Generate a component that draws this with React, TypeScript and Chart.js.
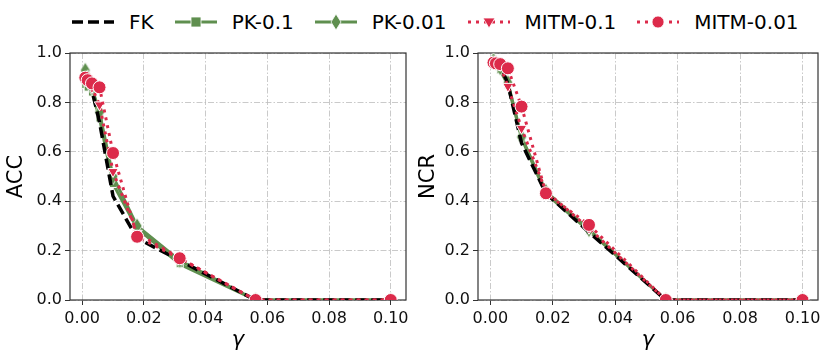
import React, { useEffect, useRef } from 'react';
import { Chart, registerables } from 'chart.js';
Chart.register(...registerables);

// ---------- data ----------
const gammas = [0.001, 0.00178, 0.00316, 0.00562, 0.01, 0.0178, 0.0316, 0.0562, 0.1];
const xTicks = [0, 0.02, 0.04, 0.06, 0.08, 0.1];
const yTicks = [0, 0.2, 0.4, 0.6, 0.8, 1.0];
const seriesNames = ['FK', 'PK-0.1', 'PK-0.01', 'MITM-0.1', 'MITM-0.01'];
const yTitles = ['ACC', 'NCR'];
const xTitle = 'γ';

const accFK = [0.88, 0.87, 0.85, 0.72, 0.42, 0.25, 0.16, 0.0, 0.0];
const accPK01 = [0.87, 0.86, 0.84, 0.735, 0.47, 0.29, 0.145, 0.0, 0.0];
const accPK001 = [0.93, 0.9, 0.86, 0.76, 0.5, 0.3, 0.16, 0.0, 0.0];
const accMITM01 = [0.89, 0.88, 0.86, 0.79, 0.52, 0.27, 0.17, 0.0, 0.0];
const accMITM001 = [0.9, 0.89, 0.877, 0.861, 0.595, 0.256, 0.169, 0.0, 0.0];

const ncrFK = [0.965, 0.96, 0.95, 0.875, 0.635, 0.432, 0.275, 0.0, 0.0];
const ncrPK01 = [0.96, 0.95, 0.93, 0.87, 0.655, 0.43, 0.28, 0.0, 0.0];
const ncrPK001 = [0.97, 0.96, 0.94, 0.88, 0.66, 0.44, 0.285, 0.0, 0.0];
const ncrMITM01 = [0.96, 0.955, 0.95, 0.865, 0.695, 0.44, 0.29, 0.0, 0.0];
const ncrMITM001 = [0.961, 0.958, 0.955, 0.938, 0.783, 0.432, 0.304, 0.0, 0.0];

const accSeries = [accFK, accPK01, accPK001, accMITM01, accMITM001];
const ncrSeries = [ncrFK, ncrPK01, ncrPK001, ncrMITM01, ncrMITM001];

// ---------- styles ----------
const GREEN = '#5f8f4f';
const RED = '#dc2a4a';
const FONT = "'DejaVu Sans', sans-serif";

function makeThinDiamond(color: string) {
  const c = document.createElement('canvas');
  c.width = 12;
  c.height = 18;
  const g = c.getContext('2d')!;
  g.beginPath();
  g.moveTo(6, 1);
  g.lineTo(11, 9);
  g.lineTo(6, 17);
  g.lineTo(1, 9);
  g.closePath();
  g.fillStyle = color;
  g.fill();
  g.strokeStyle = '#ffffff';
  g.lineWidth = 0.8;
  g.stroke();
  return c;
}

type Style = {
  color: string;
  width: number;
  dash: number[];
  point: any;
  radius: number;
  rotation: number;
  order: number;
};

function seriesStyles(): Style[] {
  return [
    { color: '#000000', width: 3.5, dash: [11, 5], point: false, radius: 0, rotation: 0, order: 2 },
    { color: GREEN, width: 3, dash: [], point: 'rect', radius: 5, rotation: 0, order: 4 },
    { color: GREEN, width: 3, dash: [], point: makeThinDiamond(GREEN), radius: 7, rotation: 0, order: 3 },
    { color: RED, width: 3, dash: [3, 5], point: 'triangle', radius: 6, rotation: 180, order: 1 },
    { color: RED, width: 3, dash: [3, 5], point: 'circle', radius: 6.5, rotation: 0, order: 0 },
  ];
}

const framePlugin = {
  id: 'frame',
  beforeDatasetsDraw(chart: any) {
    const { ctx, chartArea } = chart;
    ctx.save();
    ctx.strokeStyle = '#333333';
    ctx.lineWidth = 1.2;
    ctx.strokeRect(chartArea.left, chartArea.top, chartArea.right - chartArea.left, chartArea.bottom - chartArea.top);
    ctx.restore();
  },
};

type PanelProps = {
  yTitle: string;
  series: number[][];
  left: number;
  width: number;
  yAxisWidth: number;
  padRight: number;
};

const CANVAS_TOP = 36;
const CANVAS_H = 324;

function Panel({ yTitle, series, left, width, yAxisWidth, padRight }: PanelProps) {
  const ref = useRef<HTMLCanvasElement>(null);
  useEffect(() => {
    const styles = seriesStyles();
    const datasets = series.map((vals, i) => {
      const s = styles[i];
      return {
        label: seriesNames[i],
        data: gammas.map((g, j) => ({ x: g, y: vals[j] })),
        borderColor: s.color,
        backgroundColor: s.color,
        borderWidth: s.width,
        borderDash: s.dash,
        borderCapStyle: 'butt',
        pointStyle: s.point,
        pointRadius: s.radius,
        pointRotation: s.rotation,
        pointBackgroundColor: s.color,
        pointBorderColor: '#ffffff',
        pointBorderWidth: 1,
        tension: 0,
        clip: 0,
        order: s.order,
      };
    });
    const chart = new Chart(ref.current!, {
      type: 'line',
      data: { datasets } as any,
      plugins: [framePlugin],
      options: {
        animation: false,
        responsive: false,
        devicePixelRatio: 1,
        layout: { padding: { top: 17, right: padRight, left: 0, bottom: 0 } },
        plugins: { legend: { display: false }, tooltip: { enabled: false } },
        scales: {
          x: {
            type: 'linear',
            min: -0.00395,
            max: 0.10495,
            afterFit: (s: any) => {
              s.height = 60;
            },
            afterBuildTicks: (s: any) => {
              s.ticks = xTicks.map((v) => ({ value: v }));
            },
            ticks: {
              callback: (v: any) => Number(v).toFixed(2),
              font: { family: FONT, size: 16 },
              color: '#111111',
              padding: 4,
              maxRotation: 0,
              autoSkip: false,
            },
            grid: {
              color: '#bdbdbd',
              lineWidth: 0.8,
              tickLength: 5,
              tickColor: '#333333',
              tickWidth: 1,
              tickBorderDash: [],
            },
            border: { display: false, dash: [6, 2, 1.5, 2] },
            title: {
              display: true,
              text: xTitle,
              font: { family: FONT, size: 21, style: 'italic' },
              color: '#000000',
              padding: { top: 0, bottom: 7 },
            },
          },
          y: {
            type: 'linear',
            min: 0,
            max: 1,
            afterFit: (s: any) => {
              s.width = yAxisWidth;
            },
            afterBuildTicks: (s: any) => {
              s.ticks = yTicks.map((v) => ({ value: v }));
            },
            ticks: {
              callback: (v: any) => Number(v).toFixed(1),
              font: { family: FONT, size: 16 },
              color: '#111111',
              padding: 3,
              autoSkip: false,
            },
            grid: {
              color: '#bdbdbd',
              lineWidth: 0.8,
              tickLength: 5,
              tickColor: '#333333',
              tickWidth: 1,
              tickBorderDash: [],
            },
            border: { display: false, dash: [6, 2, 1.5, 2] },
            title: {
              display: true,
              text: yTitle,
              font: { family: FONT, size: 21 },
              color: '#000000',
              padding: { top: 4, bottom: 0 },
            },
          },
        },
      } as any,
    });
    return () => chart.destroy();
  }, []);
  return (
    <div style={{ position: 'absolute', left, top: CANVAS_TOP, width, height: CANVAS_H }}>
      <canvas ref={ref} width={width} height={CANVAS_H} style={{ width, height: CANVAS_H, display: 'block' }} />
    </div>
  );
}

function LegendSample({ index }: { index: number }) {
  const w = 42;
  const h = 22;
  const cy = h / 2;
  const cx = w / 2;
  let line: any;
  let marker: any = null;
  if (index === 0) {
    line = <line x1={0} y1={cy} x2={w} y2={cy} stroke="#000" strokeWidth={3.5} strokeDasharray="11 5" />;
  } else if (index === 1 || index === 2) {
    line = <line x1={0} y1={cy} x2={w} y2={cy} stroke={GREEN} strokeWidth={3} />;
    marker =
      index === 1 ? (
        <rect x={cx - 5} y={cy - 5} width={10} height={10} fill={GREEN} stroke="#fff" strokeWidth={0.8} />
      ) : (
        <polygon points={`${cx},${cy - 8} ${cx + 5},${cy} ${cx},${cy + 8} ${cx - 5},${cy}`} fill={GREEN} stroke="#fff" strokeWidth={0.8} />
      );
  } else {
    line = <line x1={0} y1={cy} x2={w} y2={cy} stroke={RED} strokeWidth={3} strokeDasharray="3 5" />;
    marker =
      index === 3 ? (
        <polygon points={`${cx - 6},${cy - 4} ${cx + 6},${cy - 4} ${cx},${cy + 6}`} fill={RED} stroke="#fff" strokeWidth={0.8} />
      ) : (
        <circle cx={cx} cy={cy} r={6} fill={RED} stroke="#fff" strokeWidth={0.8} />
      );
  }
  return (
    <svg width={w} height={h} style={{ display: 'block', marginRight: 15 }}>
      {line}
      {marker}
    </svg>
  );
}

function Legend() {
  return (
    <div
      style={{
        position: 'absolute',
        left: 72,
        top: 6,
        height: 32,
        display: 'flex',
        alignItems: 'center',
        fontFamily: FONT,
        fontSize: 20,
        color: '#000',
        whiteSpace: 'nowrap',
      }}
    >
      {seriesNames.map((n, i) => (
        <div key={n} style={{ display: 'flex', alignItems: 'center', marginRight: 21 }}>
          <LegendSample index={i} />
          <span>{n}</span>
        </div>
      ))}
    </div>
  );
}

export default function App() {
  return (
    <div style={{ position: 'fixed', left: 0, top: 0, width: 830, height: 360, background: '#fff', overflow: 'hidden' }}>
      <Legend />
      <Panel yTitle={yTitles[0]} series={accSeries} left={0} width={414} yAxisWidth={70} padRight={4} />
      <Panel yTitle={yTitles[1]} series={ncrSeries} left={412} width={418} yAxisWidth={66} padRight={12} />
    </div>
  );
}
